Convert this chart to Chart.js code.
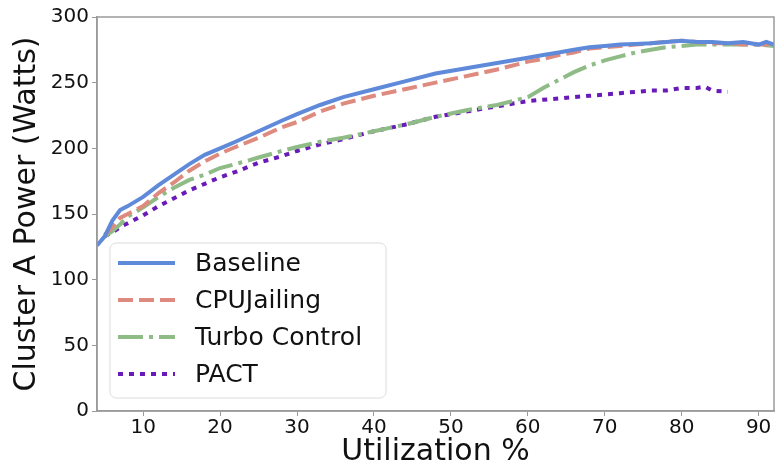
<!DOCTYPE html>
<html>
<head>
<meta charset="utf-8">
<script src="https://cdn.jsdelivr.net/npm/chart.js@4"></script>
<style>
  body { margin: 0; background: #fff; }
</style>
</head>
<body>
<canvas id="myChart" width="775" height="467"></canvas>
<script>
// data
const baselineX = [4, 5, 6, 7, 8, 10, 12, 14, 16, 18, 20, 22, 25, 28, 30, 33, 36, 40, 44, 48, 52, 56, 60, 62, 64, 66, 68, 70, 72, 74, 76, 78, 80, 82, 84, 86, 88, 90, 91, 92];
const baselineY = [126, 133, 145, 153, 156, 163, 172, 180, 188, 195, 200, 205, 213, 221, 226, 233, 239, 245, 251, 257, 261, 265, 269, 271, 273, 275, 277, 278, 279, 279.5, 280, 281, 282, 281, 281, 280, 281, 279, 281, 279];

const jailX = [5, 6, 7, 8, 10, 12, 14, 16, 18, 20, 22, 25, 28, 30, 33, 36, 40, 44, 48, 52, 56, 60, 62, 64, 66, 68, 70, 72, 74, 76, 78, 80, 82, 84, 86, 88, 90, 92];
const jailY = [134, 140, 147, 150, 156, 166, 174, 183, 190, 196, 201, 208, 216, 220, 228, 234, 240, 245, 250, 255, 260, 266, 268, 271, 273, 276, 277, 278, 279, 280, 281, 282, 281, 280, 280, 279, 279, 279];

const turboX = [5, 6, 7, 8, 10, 12, 14, 16, 18, 20, 22, 25, 28, 30, 33, 36, 40, 44, 48, 52, 56, 58, 60, 62, 64, 66, 68, 70, 72, 74, 76, 78, 80, 82, 84, 86, 88, 90, 92];
const turboY = [133, 137, 142, 148, 155, 163, 170, 176, 180, 185, 188, 193, 198, 201, 205, 208, 213, 218, 224, 229, 233, 236, 239, 246, 252, 258, 263, 267, 270, 273, 275, 277, 278, 279, 279, 279, 279, 279, 278];

const pactX = [5, 6, 7, 8, 10, 12, 14, 16, 18, 20, 22, 25, 28, 30, 33, 36, 40, 44, 48, 52, 56, 60, 64, 68, 72, 76, 78, 80, 82, 83, 84, 86];
const pactY = [133, 136, 140, 143, 149, 156, 162, 168, 173, 178, 182, 189, 194, 198, 203, 207, 213, 218, 224, 228, 232, 236, 238, 240, 242, 244, 244, 246, 246, 247, 244, 243];

const xTicks = [10, 20, 30, 40, 50, 60, 70, 80, 90];
const yTicks = [0, 50, 100, 150, 200, 250, 300];
const seriesNames = ['Baseline', 'CPUJailing', 'Turbo Control', 'PACT'];

const colors = ['#5f8ada', '#de8a7e', '#8fbb86', '#6a1ab8'];
const dashes = [[], [15, 6], [25, 6, 4, 6], [5, 6]];

const toPoints = (xs, ys) => xs.map((x, i) => ({ x: x, y: ys[i] }));
const allX = [baselineX, jailX, turboX, pactX];
const allY = [baselineY, jailY, turboY, pactY];

const font = 'DejaVu Sans';

// border on all four sides + legend box inside the plot
const framePlugin = {
  id: 'frame',
  afterDatasetsDraw(chart) {
    const { ctx, chartArea: a } = chart;
    ctx.save();
    ctx.strokeStyle = '#9a9a9a';
    ctx.lineWidth = 1.5;
    ctx.strokeRect(a.left, a.top, a.right - a.left, a.bottom - a.top);

    // legend
    const bx = 110, by = 243, bw = 276, bh = 155, r = 6;
    ctx.beginPath();
    ctx.moveTo(bx + r, by);
    ctx.arcTo(bx + bw, by, bx + bw, by + bh, r);
    ctx.arcTo(bx + bw, by + bh, bx, by + bh, r);
    ctx.arcTo(bx, by + bh, bx, by, r);
    ctx.arcTo(bx, by, bx + bw, by, r);
    ctx.closePath();
    ctx.fillStyle = 'rgba(255,255,255,0.85)';
    ctx.fill();
    ctx.strokeStyle = '#dcdcdc';
    ctx.lineWidth = 1;
    ctx.stroke();

    const rows = [263, 300, 337, 374];
    ctx.font = '25px "' + font + '"';
    ctx.textBaseline = 'middle';
    seriesNames.forEach((name, i) => {
      ctx.beginPath();
      ctx.setLineDash(dashes[i]);
      ctx.strokeStyle = colors[i];
      ctx.lineWidth = 4;
      ctx.moveTo(118, rows[i]);
      ctx.lineTo(175, rows[i]);
      ctx.stroke();
      ctx.setLineDash([]);
      ctx.fillStyle = '#111';
      ctx.fillText(name, 195, rows[i] + 1);
    });
    ctx.restore();
  }
};

const ctx = document.getElementById('myChart').getContext('2d');
new Chart(ctx, {
  type: 'line',
  data: {
    datasets: seriesNames.map((name, i) => ({
      label: name,
      data: toPoints(allX[i], allY[i]),
      borderColor: colors[i],
      borderWidth: 4,
      borderDash: dashes[i],
      borderCapStyle: 'butt',
      pointRadius: 0,
      tension: 0,
      fill: false
    }))
  },
  options: {
    responsive: false,
    animation: false,
    layout: { padding: { top: 17, right: 1, left: 0, bottom: 0 } },
    plugins: {
      legend: { display: false },
      tooltip: { enabled: false }
    },
    scales: {
      x: {
        type: 'linear',
        min: 4,
        max: 92,
        afterBuildTicks: s => { s.ticks = xTicks.map(v => ({ value: v })); },
        afterFit: s => { s.height = 56; },
        border: { display: true, color: '#9a9a9a', width: 1.5 },
        grid: { display: true, drawOnChartArea: false, drawTicks: true, tickLength: 5, color: '#9a9a9a' },
        ticks: { color: '#111', padding: 0, font: { family: font, size: 20 } },
        title: { display: true, text: 'Utilization %', color: '#111', padding: { top: 0, bottom: -3 }, font: { family: font, size: 30 } }
      },
      y: {
        min: 0,
        max: 300,
        afterBuildTicks: s => { s.ticks = yTicks.map(v => ({ value: v })); },
        afterFit: s => { s.width = 97; },
        border: { display: true, color: '#9a9a9a', width: 1.5 },
        grid: { display: true, drawOnChartArea: false, drawTicks: true, tickLength: 5, color: '#9a9a9a' },
        ticks: { color: '#111', padding: 3, font: { family: font, size: 20 } },
        title: { display: true, text: 'Cluster A Power (Watts)', color: '#111', padding: { top: 9, bottom: 0 }, font: { family: font, size: 30 } }
      }
    }
  },
  plugins: [framePlugin]
});
</script>
</body>
</html>
